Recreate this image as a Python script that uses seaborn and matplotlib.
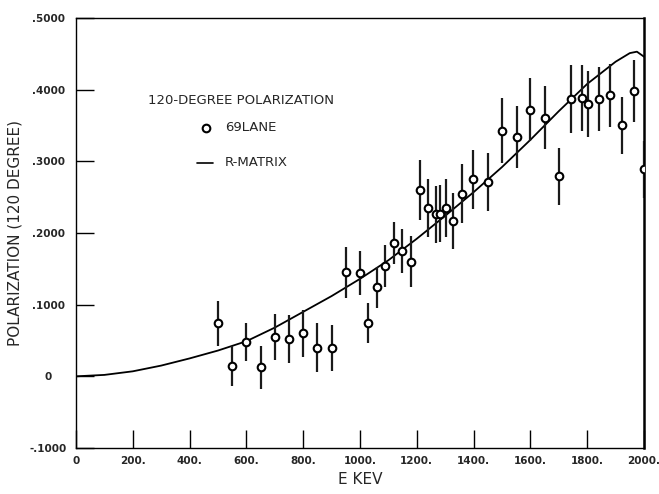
import matplotlib
matplotlib.use("Agg")
import matplotlib.pyplot as plt
import seaborn as sns
import pandas as pd

# Measured 120-degree polarization (69LANE)
energy_kev = [500, 550, 600, 650, 700, 750, 800, 850, 900, 950,
              1000, 1028, 1060, 1088, 1119, 1149, 1178, 1211, 1238, 1266,
              1282, 1302, 1329, 1360, 1399, 1452, 1501, 1552, 1599, 1651,
              1702, 1742, 1781, 1802, 1842, 1881, 1923, 1964, 2000]
polarization = [0.074, 0.014, 0.048, 0.013, 0.055, 0.052, 0.060, 0.040, 0.039, 0.145,
                0.144, 0.074, 0.124, 0.154, 0.186, 0.175, 0.160, 0.260, 0.235, 0.226,
                0.227, 0.235, 0.217, 0.255, 0.275, 0.271, 0.343, 0.334, 0.372, 0.361,
                0.279, 0.387, 0.388, 0.380, 0.387, 0.392, 0.350, 0.398, 0.289]
pol_error = [0.031, 0.028, 0.027, 0.030, 0.032, 0.033, 0.033, 0.034, 0.032, 0.035,
             0.031, 0.028, 0.029, 0.029, 0.029, 0.031, 0.036, 0.042, 0.040, 0.040,
             0.040, 0.041, 0.039, 0.041, 0.041, 0.041, 0.045, 0.043, 0.044, 0.044,
             0.040, 0.047, 0.046, 0.046, 0.045, 0.044, 0.040, 0.043, 0.040]

# R-matrix calculation
rmatrix_e = [0, 100, 200, 300, 400, 500, 600, 700, 800, 900, 1000, 1100, 1200,
             1300, 1400, 1500, 1600, 1700, 1800, 1900, 1950, 1975, 2000]
rmatrix_p = [0.000, 0.002, 0.007, 0.015, 0.025, 0.036, 0.049, 0.068, 0.090, 0.112,
             0.136, 0.162, 0.192, 0.224, 0.257, 0.292, 0.330, 0.370, 0.408, 0.439,
             0.451, 0.453, 0.446]

x_ticks = [0, 200, 400, 600, 800, 1000, 1200, 1400, 1600, 1800, 2000]
x_tick_labels = ["0", "200.", "400.", "600.", "800.", "1000.", "1200.", "1400.",
                 "1600.", "1800.", "2000."]
y_ticks = [-0.1, 0.0, 0.1, 0.2, 0.3, 0.4, 0.5]
y_tick_labels = ["-.1000", "0", ".1000", ".2000", ".3000", ".4000", ".5000"]

sns.set_style("ticks")
plt.rcParams["font.family"] = ["DejaVu Sans"]

data = pd.DataFrame({"E": energy_kev, "P": polarization, "err": pol_error})
curve = pd.DataFrame({"E": rmatrix_e, "P": rmatrix_p})

fig = plt.figure(figsize=(6.59, 4.94), dpi=100)
ax = fig.add_axes([76 / 659, 1 - 448 / 494, 568 / 659, 430 / 494])

sns.lineplot(data=curve, x="E", y="P", ax=ax, color="black", linewidth=1.3,
             sort=False, estimator=None)
ax.errorbar(data["E"], data["P"], yerr=data["err"], fmt="none",
            ecolor="#1a1a1a", elinewidth=1.6, capsize=0, zorder=3)
sns.scatterplot(data=data, x="E", y="P", ax=ax, marker="o", s=30,
                facecolor="white", edgecolor="black", linewidth=1.5, zorder=4)

ax.set_xlim(0, 2000)
ax.set_ylim(-0.1, 0.5)
ax.set_xticks(x_ticks)
ax.set_xticklabels(x_tick_labels, fontsize=7.5, fontweight="bold")
ax.set_yticks(y_ticks)
ax.set_yticklabels(y_tick_labels, fontsize=7.5, fontweight="bold", ha="center")
ax.tick_params(axis="both", direction="in", length=13, width=1.0, color="black")
ax.tick_params(axis="x", pad=6)
ax.tick_params(axis="y", pad=20)

for side in ["left", "bottom", "top"]:
    ax.spines[side].set_linewidth(1.0)
ax.spines["right"].set_linewidth(1.8)
for sp in ax.spines.values():
    sp.set_color("black")

ax.set_xlabel("E KEV", fontsize=11, labelpad=4)
ax.set_ylabel("POLARIZATION (120 DEGREE)", fontsize=11, labelpad=5)

# Inline title and key
ax.text(0.127, 0.807, "120-DEGREE POLARIZATION", transform=ax.transAxes,
        fontsize=9.5, va="center", ha="left")
ax.plot([0.228], [0.745], transform=ax.transAxes, marker="o", markersize=5.5,
        markerfacecolor="white", markeredgecolor="black", markeredgewidth=1.5,
        linestyle="none")
ax.text(0.262, 0.745, "69LANE", transform=ax.transAxes, fontsize=9.5,
        va="center", ha="left")
ax.plot([0.213, 0.241], [0.663, 0.663], transform=ax.transAxes, color="black",
        linewidth=1.2)
ax.text(0.262, 0.663, "R-MATRIX", transform=ax.transAxes, fontsize=9.5,
        va="center", ha="left")

fig.savefig("out.png", dpi=100)
